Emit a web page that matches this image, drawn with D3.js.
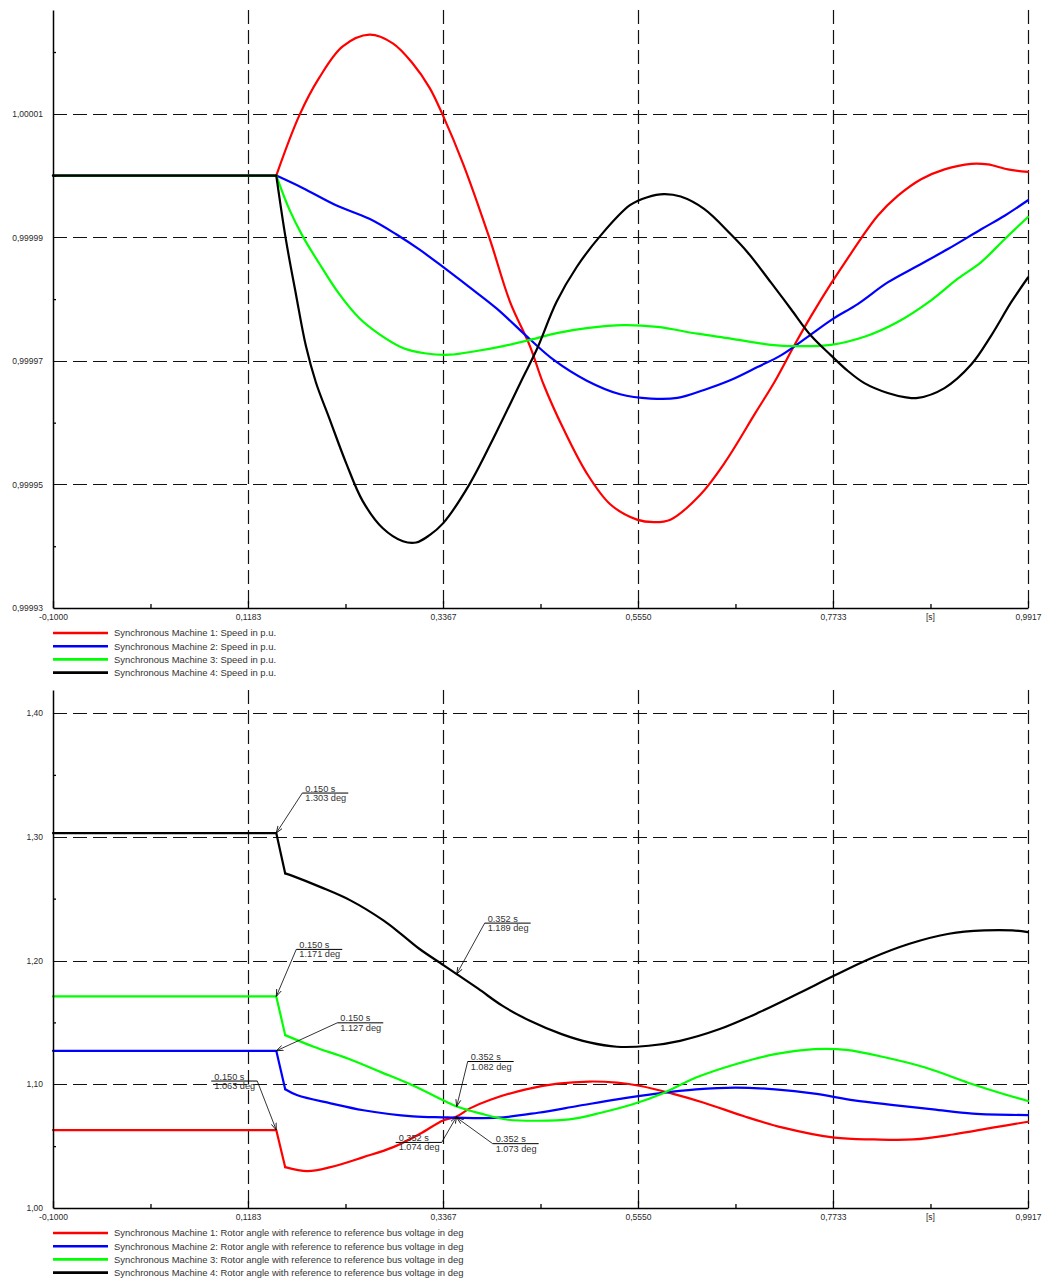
<!DOCTYPE html>
<html><head><meta charset="utf-8">
<script src="https://cdn.jsdelivr.net/npm/d3@7"></script>
<style>
html,body{margin:0;padding:0;background:#fff;}
svg{display:block;font-family:"Liberation Sans",Arial,sans-serif;}
</style></head><body>
<svg id="chart" width="1043" height="1279"></svg>
<script>
// ---------------- DATA ----------------
const xTickValues = [-0.1, 0.1183, 0.3367, 0.555, 0.7733, 0.9917];
const xMinorTicks = [0.00915, 0.2275, 0.44585, 0.66415, 0.8825];
const timeUnit = "[s]";

const speedTicks = [0.99993, 0.99995, 0.99997, 0.99999, 1.00001];
const speedMinorTicks = [0.99994, 0.99996, 0.99998, 1.00000, 1.00002];
const angleTicks = [1.00, 1.10, 1.20, 1.30, 1.40];
const angleMinorTicks = [1.05, 1.15, 1.25, 1.35];

const speedLegend = [
  "Synchronous Machine 1: Speed in p.u.",
  "Synchronous Machine 2: Speed in p.u.",
  "Synchronous Machine 3: Speed in p.u.",
  "Synchronous Machine 4: Speed in p.u."
];
const angleLegend = [
  "Synchronous Machine 1: Rotor angle with reference to reference bus voltage in deg",
  "Synchronous Machine 2: Rotor angle with reference to reference bus voltage in deg",
  "Synchronous Machine 3: Rotor angle with reference to reference bus voltage in deg",
  "Synchronous Machine 4: Rotor angle with reference to reference bus voltage in deg"
];

// [time s, speed p.u.]
const sm1Speed = [[-0.1,1.0],[0.15,1.0],[0.1757,1.0000097],[0.198,1.0000158],[0.2244,1.0000209],[0.2543,1.0000228],[0.2805,1.0000214],[0.303,1.0000181],[0.3217,1.0000142],[0.3367,1.0000097],[0.3592,1.0000019],[0.3891,0.9999897],[0.4116,0.9999796],[0.434,0.9999724],[0.449,0.9999663],[0.4715,0.999959],[0.4977,0.9999518],[0.5239,0.9999468],[0.5539,0.9999443],[0.5726,0.9999439],[0.5913,0.9999443],[0.6245,0.9999483],[0.6525,0.9999536],[0.687,0.9999617],[0.7075,0.9999665],[0.73,0.9999725],[0.7486,0.9999772],[0.7711,0.9999825],[0.7898,0.9999866],[0.8047,0.9999898],[0.8234,0.9999935],[0.8458,0.9999967],[0.872,0.9999994],[0.8982,1.000001],[0.9281,1.0000019],[0.9467,1.0000018],[0.9692,1.000001],[0.9917,1.0000006]];
const sm2Speed = [[-0.1,1.0],[0.15,1.0],[0.1795,0.999998],[0.2169,0.9999952],[0.2543,0.999993],[0.2843,0.9999905],[0.3105,0.999988],[0.3367,0.9999852],[0.3666,0.9999819],[0.3966,0.9999785],[0.434,0.9999735],[0.4603,0.9999702],[0.4977,0.9999668],[0.5351,0.9999646],[0.5692,0.9999639],[0.5991,0.999964],[0.629,0.9999653],[0.6589,0.9999669],[0.6888,0.999969],[0.715,0.9999709],[0.745,0.9999739],[0.7733,0.9999768],[0.801,0.9999792],[0.8346,0.9999827],[0.8683,0.9999854],[0.902,0.9999881],[0.9393,0.9999913],[0.9655,0.9999935],[0.9917,0.999996]];
const sm3Speed = [[-0.1,1.0],[0.15,1.0],[0.165,0.9999944],[0.1795,0.9999902],[0.198,0.9999858],[0.2206,0.9999808],[0.2431,0.9999769],[0.2656,0.9999743],[0.2918,0.9999721],[0.318,0.9999712],[0.3442,0.999971],[0.3741,0.9999716],[0.4041,0.9999724],[0.434,0.9999734],[0.464,0.9999745],[0.4977,0.9999753],[0.5389,0.9999758],[0.5767,0.9999755],[0.6215,0.9999744],[0.6589,0.9999736],[0.7038,0.9999726],[0.7337,0.9999724],[0.7711,0.9999726],[0.8085,0.9999739],[0.8458,0.9999763],[0.8832,0.9999798],[0.9131,0.9999833],[0.9393,0.999986],[0.9655,0.9999897],[0.9917,0.9999933]];
const sm4Speed = [[-0.1,1.0],[0.15,1.0],[0.1607,0.9999897],[0.172,0.9999808],[0.1832,0.9999724],[0.1944,0.9999665],[0.2094,0.9999607],[0.2281,0.9999535],[0.2468,0.9999473],[0.2693,0.9999429],[0.2918,0.9999408],[0.3067,0.9999406],[0.3217,0.9999418],[0.3367,0.9999437],[0.3666,0.9999501],[0.3966,0.9999585],[0.4265,0.9999674],[0.4415,0.9999718],[0.464,0.9999796],[0.4864,0.9999852],[0.5126,0.9999902],[0.546,0.9999952],[0.5655,0.9999965],[0.5842,0.999997],[0.6028,0.9999966],[0.629,0.9999946],[0.6589,0.9999905],[0.6776,0.9999876],[0.7038,0.9999827],[0.7262,0.9999784],[0.7486,0.9999741],[0.7711,0.9999709],[0.7898,0.9999684],[0.8085,0.9999664],[0.8346,0.9999648],[0.855,0.9999641],[0.8683,0.999964],[0.8982,0.9999656],[0.9281,0.9999694],[0.9505,0.9999741],[0.9729,0.9999795],[0.9917,0.9999835]];

// [time s, rotor angle deg]
const sm1Angle = [[-0.1,1.063],[0.15,1.063],[0.16,1.033],[0.1848,1.0298],[0.2108,1.033],[0.2476,1.0411],[0.281,1.0492],[0.311,1.06],[0.3367,1.0708],[0.352,1.074],[0.3668,1.0805],[0.3898,1.0875],[0.4296,1.0959],[0.4651,1.1005],[0.5005,1.1022],[0.5314,1.1013],[0.558,1.0986],[0.5934,1.0924],[0.6288,1.0851],[0.6731,1.0743],[0.7173,1.0649],[0.7749,1.0568],[0.8192,1.0554],[0.8634,1.0554],[0.9077,1.0594],[0.952,1.0649],[0.9917,1.0697]];
const sm2Angle = [[-0.1,1.127],[0.15,1.127],[0.16,1.096],[0.1737,1.0911],[0.2108,1.0846],[0.2476,1.079],[0.303,1.074],[0.3367,1.0733],[0.352,1.073],[0.3987,1.073],[0.4429,1.077],[0.4872,1.0824],[0.5314,1.0878],[0.5757,1.0924],[0.62,1.0959],[0.6642,1.0973],[0.7085,1.0959],[0.7528,1.0924],[0.797,1.087],[0.8413,1.0832],[0.8855,1.0797],[0.9298,1.0762],[0.9917,1.0751]];
const sm3Angle = [[-0.1,1.171],[0.15,1.171],[0.16,1.1397],[0.1919,1.1303],[0.2294,1.121],[0.2665,1.11],[0.303,1.099],[0.3408,1.0857],[0.352,1.082],[0.378,1.0765],[0.4075,1.0715],[0.4429,1.0705],[0.4783,1.0716],[0.5137,1.077],[0.5492,1.0838],[0.5845,1.0932],[0.62,1.1054],[0.6642,1.1162],[0.7085,1.1243],[0.7528,1.1284],[0.7882,1.1278],[0.8324,1.1216],[0.8767,1.1135],[0.9298,1.1],[0.9652,1.0919],[0.9917,1.0865]];
const sm4Angle = [[-0.1,1.303],[0.15,1.303],[0.16,1.2704],[0.1696,1.268],[0.1997,1.2593],[0.233,1.2486],[0.2699,1.2324],[0.2888,1.222],[0.3101,1.2095],[0.3367,1.1965],[0.352,1.189],[0.3765,1.177],[0.403,1.1635],[0.434,1.1513],[0.4695,1.1405],[0.5005,1.1338],[0.5314,1.1303],[0.567,1.1311],[0.6021,1.1351],[0.6465,1.1446],[0.6907,1.1581],[0.735,1.1735],[0.7749,1.1878],[0.8147,1.2014],[0.859,1.2135],[0.9032,1.2216],[0.943,1.2243],[0.9741,1.2243],[0.9917,1.223]];

// value labels on the rotor-angle plot [time s, deg]
const angleMarkerValues = [[0.150,1.303],[0.150,1.171],[0.150,1.127],[0.150,1.063],[0.352,1.189],[0.352,1.082],[0.352,1.073],[0.352,1.074]];

// ---------------- STYLE / LAYOUT ----------------
const seriesColors = ["#ff0000", "#0000ff", "#00ff00", "#000000"];
const markerLayout = [
  {dx:26, dy:-40, side:1}, {dx:20, dy:-47, side:1}, {dx:61, dy:-28, side:1}, {dx:-19, dy:-49, side:-1},
  {dx:28, dy:-51, side:1}, {dx:11, dy:-45, side:1}, {dx:36, dy:26, side:1}, {dx:-15, dy:26, side:-1}
];

const svg = d3.select("#chart");
const loc = d3.formatLocale({decimal:",", thousands:".", grouping:[3], currency:["",""], minus:"-"});
const fmtX = loc.format(".4f");

svg.append("defs").append("marker")
  .attr("id","arr").attr("markerUnits","userSpaceOnUse")
  .attr("viewBox","0 -4 8 8").attr("refX",7).attr("refY",0)
  .attr("markerWidth",8).attr("markerHeight",8).attr("orient","auto")
  .append("path").attr("d","M0,-2.5L7,0L0,2.5").attr("fill","none").attr("stroke","#000").attr("stroke-width",0.8);

function drawPanel(cfg) {
  const {x, y, series, yTicks, yMinor, yFmt, gridY, legend, legendY0, kink} = cfg;
  const g = svg.append("g");
  const [x0, x1] = x.range();
  const [yb, yt] = y.range();

  // grid
  g.append("g").selectAll("line").data(gridY).join("line")
    .attr("x1", x0).attr("x2", x1).attr("y1", d => Math.round(y(d)) + 0.5).attr("y2", d => Math.round(y(d)) + 0.5)
    .attr("stroke", "#111").attr("stroke-width", 1.2).attr("stroke-dasharray", "14,6");
  g.append("g").selectAll("line").data(xTickValues.slice(1)).join("line")
    .attr("x1", d => Math.round(x(d)) + 0.5).attr("x2", d => Math.round(x(d)) + 0.5).attr("y1", yt).attr("y2", yb)
    .attr("stroke", "#111").attr("stroke-width", 1.2).attr("stroke-dasharray", "14,6");

  // series
  const lin = d3.line().x(d => x(d[0])).y(d => y(d[1])).curve(d3.curveLinear);
  const smooth = d3.line().x(d => x(d[0])).y(d => y(d[1])).curve(d3.curveCatmullRom.alpha(0.5));
  series.forEach((s, i) => {
    const pre = s.filter(p => p[0] <= kink + 1e-9);
    const post = s.filter(p => p[0] >= kink - 1e-9);
    [ [pre, lin], [post, smooth] ].forEach(([pts, gen]) => {
      g.append("path").attr("d", gen(pts)).attr("fill", "none")
        .attr("stroke", seriesColors[i]).attr("stroke-width", 2.2)
        .attr("stroke-linejoin", "round").attr("stroke-linecap", "round");
    });
  });

  // axes
  const styleAxis = sel => {
    sel.attr("font-family", null).attr("font-size", null);
    sel.selectAll("path.domain").attr("stroke", "#000").attr("stroke-width", 1.5);
    sel.selectAll("line").attr("stroke", "#000").attr("stroke-width", 1.3);
    sel.selectAll("text").attr("font-size", "8.5px").attr("fill", "#2a2a2a");
  };
  g.append("g").attr("transform", `translate(0,${yb})`)
    .call(d3.axisBottom(x).tickValues(xTickValues).tickFormat(fmtX).tickSizeInner(-7).tickSizeOuter(0).tickPadding(6))
    .call(styleAxis);
  const mb = g.append("g").attr("transform", `translate(0,${yb})`)
    .call(d3.axisBottom(x).tickValues(xMinorTicks).tickFormat("").tickSize(-4))
    .call(styleAxis);
  mb.select("path.domain").remove();
  g.append("text").attr("x", x(xMinorTicks[xMinorTicks.length - 1])).attr("y", yb + 6).attr("dy", "0.71em")
    .attr("text-anchor", "middle").attr("font-size", "8.5px").attr("fill", "#2a2a2a").text(timeUnit);

  g.append("g").attr("transform", `translate(${x0},0)`)
    .call(d3.axisLeft(y).tickValues(yTicks).tickFormat(yFmt).tickSizeInner(0).tickSizeOuter(0).tickPadding(10))
    .call(styleAxis);
  const ml = g.append("g").attr("transform", `translate(${x0},0)`)
    .call(d3.axisLeft(y).tickValues(yMinor).tickFormat("").tickSize(-3))
    .call(styleAxis);
  ml.select("path.domain").remove();

  // legend
  const lg = g.append("g");
  legend.forEach((t, i) => {
    const ly = legendY0 + i * 13.2;
    lg.append("line").attr("x1", x0).attr("x2", x0 + 55).attr("y1", ly).attr("y2", ly)
      .attr("stroke", seriesColors[i]).attr("stroke-width", 2.6);
    lg.append("text").attr("x", x0 + 61).attr("y", ly).attr("dy", "0.35em")
      .attr("font-size", "9.45px").attr("fill", "#333").text(t);
  });
  return g;
}

// ----- top: speed -----
const xTop = d3.scaleLinear().domain([-0.1, 0.9917]).range([53, 1028]);
const yTop = d3.scaleLinear().domain([0.99993, 1.0000268]).range([608, 10]);
drawPanel({
  x: xTop, y: yTop,
  series: [sm1Speed, sm2Speed, sm3Speed, sm4Speed],
  yTicks: speedTicks, yMinor: speedMinorTicks, yFmt: loc.format(".5f"),
  gridY: speedTicks.slice(1),
  legend: speedLegend, legendY0: 633, kink: 0.15
});

// ----- bottom: rotor angle -----
const xBot = d3.scaleLinear().domain([-0.1, 0.9917]).range([53, 1028]);
const yBot = d3.scaleLinear().domain([1.00, 1.4186]).range([1208, 690]);
const gb = drawPanel({
  x: xBot, y: yBot,
  series: [sm1Angle, sm2Angle, sm3Angle, sm4Angle],
  yTicks: angleTicks, yMinor: angleMinorTicks, yFmt: loc.format(".2f"),
  gridY: angleTicks.slice(1),
  legend: angleLegend, legendY0: 1233, kink: 0.16
});

// value labels
const f3 = d3.format(".3f");
const mg = gb.append("g");
angleMarkerValues.forEach((m, i) => {
  const L = markerLayout[i];
  const px = xBot(m[0]), py = yBot(m[1]);
  const ax = px + L.dx, ay = py + L.dy;
  const bx = ax + L.side * 46;
  const left = Math.min(ax, bx);
  mg.append("line").attr("x1", ax).attr("y1", ay).attr("x2", px).attr("y2", py)
    .attr("stroke", "#000").attr("stroke-width", 0.8).attr("marker-end", "url(#arr)");
  mg.append("line").attr("x1", ax).attr("y1", ay).attr("x2", bx).attr("y2", ay)
    .attr("stroke", "#000").attr("stroke-width", 1);
  mg.append("text").attr("x", left + 3).attr("y", ay - 1.5).attr("font-size", "9.2px").attr("fill", "#333")
    .text(f3(m[0]) + " s");
  mg.append("text").attr("x", left + 3).attr("y", ay + 8).attr("font-size", "9.2px").attr("fill", "#333")
    .text(f3(m[1]) + " deg");
});
</script>
</body></html>
